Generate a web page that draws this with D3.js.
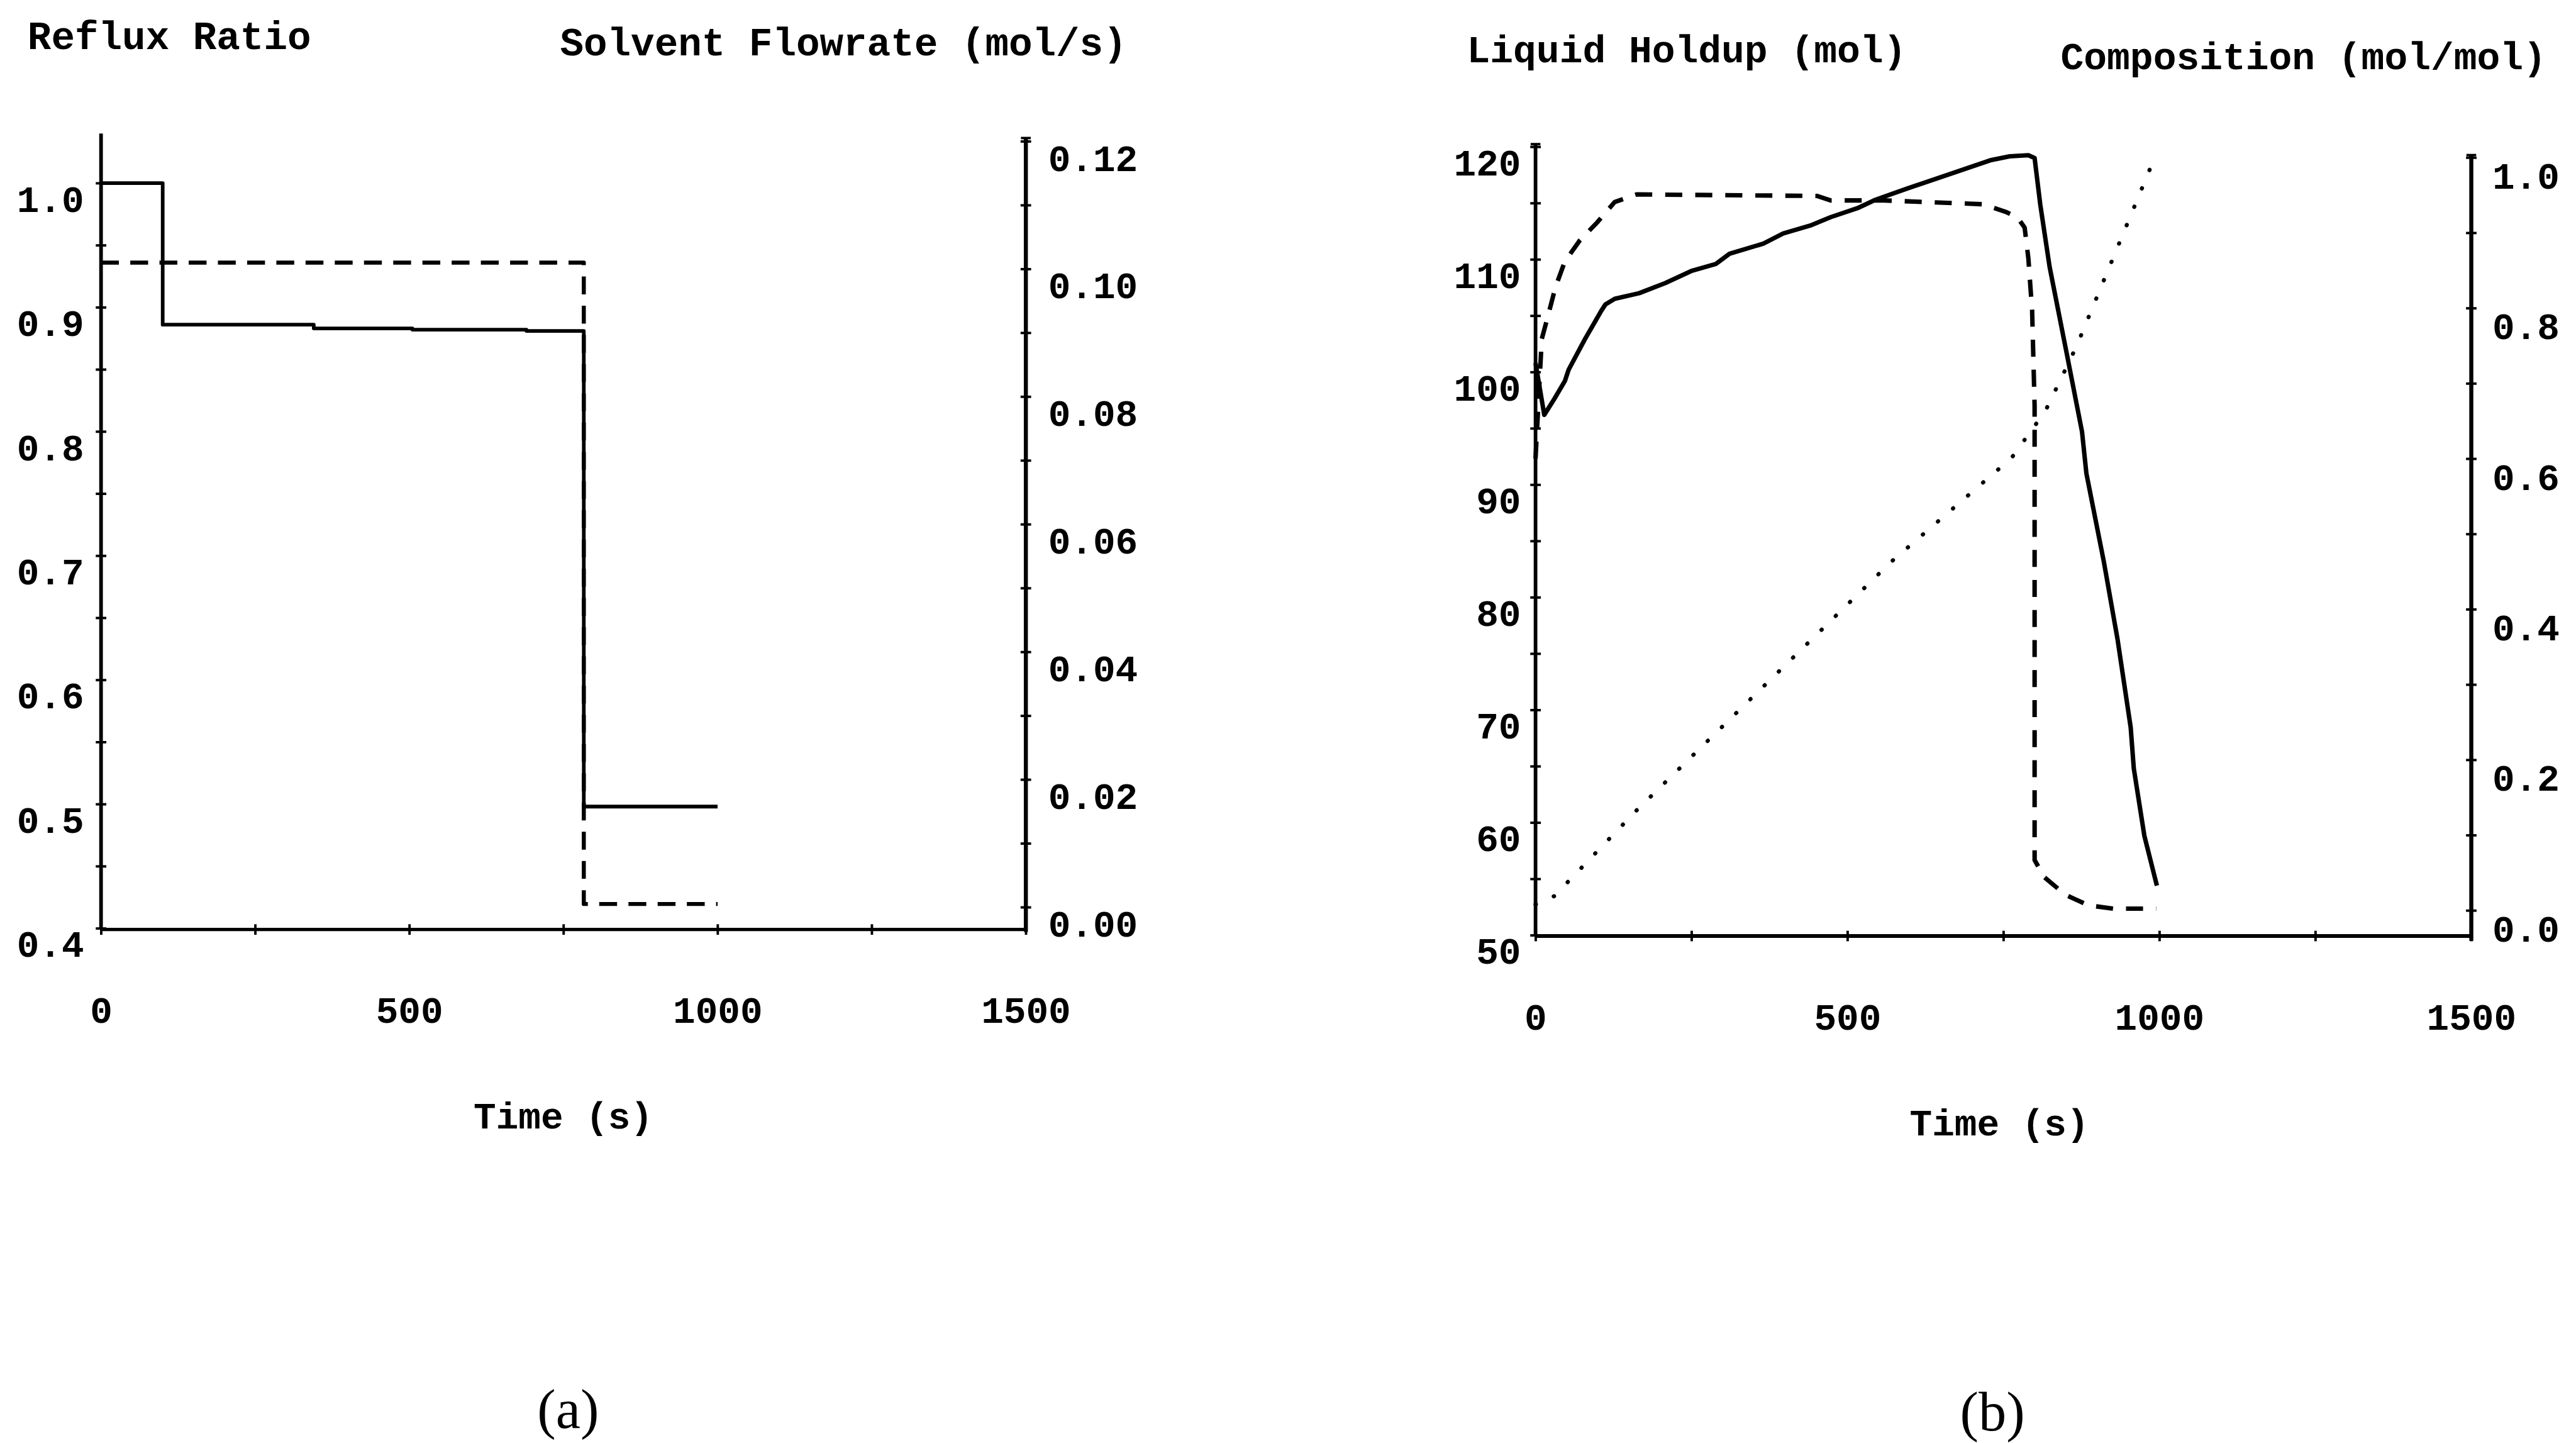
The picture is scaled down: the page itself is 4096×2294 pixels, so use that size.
<!DOCTYPE html>
<html>
<head>
<meta charset="utf-8">
<script src="https://cdn.jsdelivr.net/npm/d3@7"></script>
<style>
  html, body { margin: 0; padding: 0; background: #fff; }
  svg { display: block; }
  text { font-family: "Liberation Mono", "DejaVu Sans Mono", monospace; fill: #000; }
</style>
</head>
<body>
<svg id="chart"></svg>
<script>
// axes ticks (shared time axis)
const timeMajor = [0, 500, 1000, 1500];
const timeMinor = [0, 250, 500, 750, 1000, 1250, 1500];

// panel (a) : reflux ratio (left) and solvent flowrate (right)
const refluxMajor = [0.4, 0.5, 0.6, 0.7, 0.8, 0.9, 1.0];
const refluxMinor = [0.4, 0.45, 0.5, 0.55, 0.6, 0.65, 0.7, 0.75, 0.8, 0.85, 0.9, 0.95, 1.0];
const solventMajor = [0, 0.02, 0.04, 0.06, 0.08, 0.10, 0.12];
const solventMinor = [0, 0.01, 0.02, 0.03, 0.04, 0.05, 0.06, 0.07, 0.08, 0.09, 0.10, 0.11, 0.12];

const refluxTime  = [0, 100, 345, 505, 690, 783, 1000];
const refluxValue = [1.0, 0.886, 0.883, 0.882, 0.881, 0.498, 0.498];
const solventTime  = [0, 783, 1000];
const solventValue = [0.101, 0.0005, 0.0005];

// panel (b) : liquid holdup (left) and composition (right)
const holdupMajor = [50, 60, 70, 80, 90, 100, 110, 120];
const holdupMinor = [50, 55, 60, 65, 70, 75, 80, 85, 90, 95, 100, 105, 110, 115, 120];
const compMajor = [0, 0.2, 0.4, 0.6, 0.8, 1.0];
const compMinor = [0, 0.1, 0.2, 0.3, 0.4, 0.5, 0.6, 0.7, 0.8, 0.9, 1.0];

const holdupTime  = [0, 14, 30, 47, 53, 79, 105, 112, 127, 166, 208, 251, 289, 311, 365, 397, 440, 473, 516, 545, 596, 660, 729, 760, 790, 800, 809, 824, 852, 876, 883, 911, 933, 954, 959, 976, 996];
const holdupValue = [100.8, 96.2, 97.6, 99.2, 100.2, 102.9, 105.4, 106.0, 106.5, 107.0, 107.9, 109.0, 109.6, 110.5, 111.4, 112.3, 113.0, 113.75, 114.55, 115.3, 116.3, 117.5, 118.8, 119.15, 119.25, 119.0, 114.9, 109.35, 101.5, 94.7, 91.0, 83.15, 76.25, 68.45, 64.8, 58.8, 54.4];

const dashTime  = [0, 10, 21, 32, 47, 71, 99, 127, 162, 300, 451, 473, 559, 717, 753, 772, 784, 790, 796, 800, 800, 815, 849, 886, 926, 995];
const dashValue = [0.6, 0.759, 0.793, 0.828, 0.862, 0.890, 0.914, 0.941, 0.951, 0.950, 0.949, 0.943, 0.943, 0.938, 0.928, 0.921, 0.907, 0.866, 0.797, 0.67, 0.067, 0.0445, 0.021, 0.0068, 0.0024, 0.0024];

const dotTime  = [0, 30, 162, 251, 570, 763, 817, 859, 872, 985];
const dotValue = [0.008, 0.019, 0.133, 0.205, 0.463, 0.601, 0.663, 0.735, 0.759, 0.985];

// drawing in the reference's own pixel space, scaled down by the viewBox
const W = 6348, H = 3555;
const svg = d3.select('#chart')
    .attr('width', 4096)
    .attr('height', 2294)
    .attr('viewBox', '0 0 ' + W + ' ' + H);

const TICK = 13;
const zip = (a, b) => a.map((d, i) => [d, b[i]]);

// cross-shaped ticks on a vertical axis
function vTicks(scale, x, values) {
    svg.append('g')
        .attr('transform', 'translate(' + x + ',0)')
        .call(d3.axisLeft(scale).tickValues(values).tickFormat('').tickSize(TICK).tickSizeOuter(0))
        .call(g => g.select('.domain').remove())
        .call(g => g.selectAll('.tick line').attr('x1', TICK).attr('stroke-width', 6));
}
function hTicks(scale, y, values) {
    svg.append('g')
        .attr('transform', 'translate(0,' + y + ')')
        .call(d3.axisBottom(scale).tickValues(values).tickFormat('').tickSize(TICK).tickSizeOuter(0))
        .call(g => g.select('.domain').remove())
        .call(g => g.selectAll('.tick line').attr('y1', -TICK).attr('stroke-width', 6));
}
// tick labels, a bit lower than their ticks as in the original plot
function vLabels(scale, x, values, fmt, side, pad, drop) {
    const ax = side === 'left' ? d3.axisLeft(scale) : d3.axisRight(scale);
    svg.append('g')
        .attr('transform', 'translate(' + x + ',0)')
        .call(ax.tickValues(values).tickFormat(d3.format(fmt)).tickSize(0).tickPadding(pad))
        .attr('font-size', 92)
        .attr('font-family', null)
        .attr('font-weight', 'bold')
        .call(g => g.select('.domain').remove())
        .call(g => g.selectAll('text').attr('y', drop).attr('dy', '0.35em'));
}
function hLabels(scale, y, values) {
    svg.append('g')
        .attr('transform', 'translate(0,' + y + ')')
        .call(d3.axisBottom(scale).tickValues(values).tickFormat(d3.format('d')).tickSize(0))
        .attr('font-size', 92)
        .attr('font-family', null)
        .attr('font-weight', 'bold')
        .call(g => g.select('.domain').remove())
        .call(g => g.selectAll('text').attr('y', 198).attr('dy', '0.35em'));
}
function vLine(x, y1, y2, w, cap) {
    svg.append('line').attr('x1', x).attr('x2', x).attr('y1', y1).attr('y2', y2)
        .attr('stroke', '#000').attr('stroke-width', w);
    if (cap) {
        svg.append('line').attr('x1', x - 12).attr('x2', x + 12).attr('y1', y1).attr('y2', y1)
            .attr('stroke', '#000').attr('stroke-width', 6);
    }
}
function hLine(x1, x2, y, w) {
    svg.append('line').attr('x1', x1).attr('x2', x2).attr('y1', y).attr('y2', y)
        .attr('stroke', '#000').attr('stroke-width', w);
}
function title(txt, x, y, size) {
    svg.append('text').attr('x', x).attr('y', y).attr('font-size', size)
        .attr('font-weight', 'bold').text(txt);
}
function series(pts, x, y, curve, width, dash, cap) {
    svg.append('path')
        .datum(pts)
        .attr('d', d3.line().x(d => x(d[0])).y(d => y(d[1])).curve(curve))
        .attr('fill', 'none')
        .attr('stroke', '#000')
        .attr('stroke-width', width)
        .attr('stroke-dasharray', dash)
        .attr('stroke-linecap', cap || 'butt')
        .attr('stroke-linejoin', 'round');
}

// ---------- panel (a) ----------
const xA = d3.scaleLinear().domain([0, 1500]).range([249, 2528]);
const yReflux = d3.scaleLinear().domain([0.4, 1.0]).range([2287, 451]);
const ySolvent = d3.scaleLinear().domain([0, 0.12]).range([2235, 348]);

vLine(249, 329, 2290, 9, false);
vLine(2528, 340, 2296, 10, true);
hLine(249, 2528, 2290, 8);
vTicks(yReflux, 249, refluxMinor);
vTicks(ySolvent, 2528, solventMinor);
hTicks(xA, 2290, timeMinor);
vLabels(yReflux, 249, refluxMajor, '.1f', 'left', 42, 38);
vLabels(ySolvent, 2528, solventMajor, '.2f', 'right', 55, 40);
hLabels(xA, 2290, timeMajor);

series(zip(refluxTime, refluxValue), xA, yReflux, d3.curveStepAfter, 9, null);
series(zip(solventTime, solventValue), xA, ySolvent, d3.curveStepAfter, 10, '44,28');

title('Reflux Ratio', 68, 121, 97);
title('Solvent Flowrate (mol/s)', 1380, 137, 97);
svg.append('text').attr('x', 1388).attr('y', 2780).attr('text-anchor', 'middle')
    .attr('font-size', 92).attr('font-weight', 'bold').text('Time (s)');

// ---------- panel (b) ----------
const xB = d3.scaleLinear().domain([0, 1500]).range([3784, 6090]);
const yHoldup = d3.scaleLinear().domain([50, 120]).range([2304, 361.5]);
const yComp = d3.scaleLinear().domain([0, 1]).range([2243, 388]);

vLine(3784, 355, 2306, 9, true);
vLine(6090, 382, 2318, 10, true);
hLine(3784, 6090, 2306, 9);
vTicks(yHoldup, 3784, holdupMinor);
vTicks(yComp, 6090, compMinor);
hTicks(xB, 2306, timeMinor);
vLabels(yHoldup, 3784, holdupMajor, 'd', 'left', 36, 38);
vLabels(yComp, 6090, compMajor, '.1f', 'right', 52, 44);
hLabels(xB, 2306, timeMajor);

series(zip(holdupTime, holdupValue), xB, yHoldup, d3.curveLinear, 11, null);
series(zip(dashTime, dashValue), xB, yComp, d3.curveLinear, 11, '42,32');
series(zip(dotTime, dotValue), xB, yComp, d3.curveLinear, 10, '1,48', 'round');

title('Liquid Holdup (mol)', 3615, 153, 95);
title('Composition (mol/mol)', 5078, 171, 95);
svg.append('text').attr('x', 4927).attr('y', 2798).attr('text-anchor', 'middle')
    .attr('font-size', 92).attr('font-weight', 'bold').text('Time (s)');

// sub-figure captions
svg.append('text').attr('x', 1400).attr('y', 3518).attr('text-anchor', 'middle')
    .attr('font-size', 137).style('font-family', '"Liberation Serif", serif').text('(a)');
svg.append('text').attr('x', 4910).attr('y', 3524).attr('text-anchor', 'middle')
    .attr('font-size', 137).style('font-family', '"Liberation Serif", serif').text('(b)');
</script>
</body>
</html>
